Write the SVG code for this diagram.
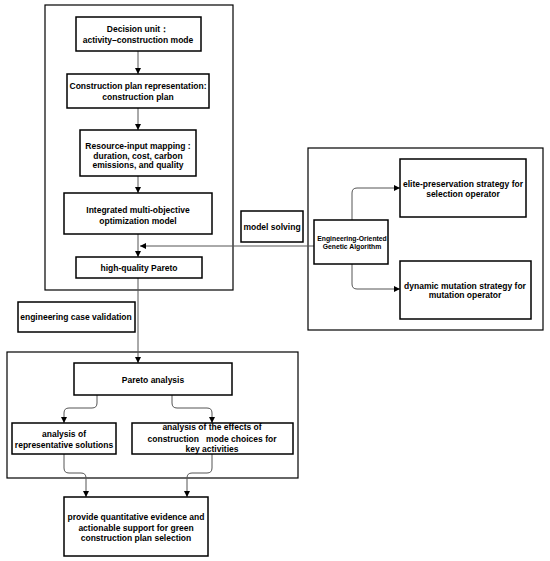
<svg xmlns="http://www.w3.org/2000/svg" width="550" height="561" viewBox="0 0 550 561">
<defs>
<style>
.frame{fill:none;stroke:#000;stroke-width:1.2}
.box{fill:#fff;stroke:#000;stroke-width:1.5}
.t{font-family:"Liberation Sans",Arial,sans-serif;font-weight:bold;font-size:8.5px;fill:#000;text-anchor:middle}
.s{font-size:6.8px}
.c{fill:none;stroke:#555;stroke-width:1}
</style>
<marker id="ah" markerWidth="6" markerHeight="6" refX="6" refY="3" orient="auto" markerUnits="userSpaceOnUse">
<path d="M0,0 L6,3 L0,6 z" fill="#000"/>
</marker>
</defs>
<rect width="550" height="561" fill="#fff"/>
<g id="frames">
<rect class="frame" x="45" y="5" width="188" height="285"/>
<rect class="frame" x="308" y="148" width="235" height="182"/>
<rect class="frame" x="7" y="352" width="291" height="126"/>
</g>
<g id="connectors">
<path class="c" d="M138,51 V74" marker-end="url(#ah)"/>
<path class="c" d="M138,108 V130" marker-end="url(#ah)"/>
<path class="c" d="M138,176 V193" marker-end="url(#ah)"/>
<path class="c" d="M138,234 V257" marker-end="url(#ah)"/>
<path class="c" d="M314,246 H140" marker-end="url(#ah)"/>
<path class="c" d="M138,278 V363" marker-end="url(#ah)"/>
<path class="c" d="M352,220 V193 Q352,188 357,188 H400" marker-end="url(#ah)"/>
<path class="c" d="M352,264 V284 Q352,289 357,289 H400" marker-end="url(#ah)"/>
<path class="c" d="M97,395 V403 Q97,408 92,408 H69 Q64,408 64,413 V423" marker-end="url(#ah)"/>
<path class="c" d="M172,395 V403 Q172,408 177,408 H207 Q212,408 212,413 V423" marker-end="url(#ah)"/>
<path class="c" d="M64,454 V468 Q64,473 69,473 H81 Q86,473 86,478 V497" marker-end="url(#ah)"/>
<path class="c" d="M212,454 V468 Q212,473 207,473 H192 Q187,473 187,478 V497" marker-end="url(#ah)"/>
</g>
<g id="decision-unit">
<rect class="box" x="76" y="17" width="125" height="34"/>
<text class="t" x="138" y="32">Decision unit：</text>
<text class="t" x="138" y="43">activity–construction mode</text>
</g>
<g id="plan-representation">
<rect class="box" x="67" y="74" width="142" height="34"/>
<text class="t" x="138" y="89">Construction plan representation:</text>
<text class="t" x="138" y="100">construction plan</text>
</g>
<g id="resource-mapping">
<rect class="box" x="80" y="130" width="116" height="46"/>
<text class="t" x="138" y="149">Resource-input mapping :</text>
<text class="t" x="138" y="158.5">duration, cost, carbon</text>
<text class="t" x="138" y="168">emissions, and quality</text>
</g>
<g id="integrated-model">
<rect class="box" x="64" y="193" width="148" height="41"/>
<text class="t" x="138" y="213">Integrated multi-objective</text>
<text class="t" x="138" y="223.5">optimization model</text>
</g>
<g id="pareto">
<rect class="box" x="76" y="257" width="126" height="21"/>
<text class="t" x="139" y="271">high-quality Pareto</text>
</g>
<g id="model-solving">
<rect class="box" x="241" y="211" width="62" height="31"/>
<text class="t" x="272" y="230">model solving</text>
</g>
<g id="ga">
<rect class="box" x="314" y="220" width="74" height="44"/>
<text class="t s" x="352" y="241">Engineering-Oriented</text>
<text class="t s" x="352" y="249">Genetic Algorithm</text>
</g>
<g id="elite">
<rect class="box" x="400" y="159" width="126" height="58"/>
<text class="t" x="463" y="187">elite-preservation strategy for</text>
<text class="t" x="463" y="196.5">selection operator</text>
</g>
<g id="dynamic">
<rect class="box" x="400" y="261" width="131" height="58"/>
<text class="t" x="465" y="289">dynamic mutation strategy for</text>
<text class="t" x="465" y="298">mutation operator</text>
</g>
<g id="case-validation">
<rect class="box" x="18" y="302" width="117" height="30"/>
<text class="t" x="76" y="320">engineering case validation</text>
</g>
<g id="pareto-analysis">
<rect class="box" x="74" y="363" width="158" height="32"/>
<text class="t" x="153" y="383">Pareto analysis</text>
</g>
<g id="representative">
<rect class="box" x="12" y="423" width="104" height="31"/>
<text class="t" x="64" y="437">analysis of</text>
<text class="t" x="64" y="447.5">representative solutions</text>
</g>
<g id="effects">
<rect class="box" x="132" y="423" width="161" height="31"/>
<text class="t" x="212" y="430">analysis of the effects of</text>
<text class="t" x="212" y="441.5" xml:space="preserve">construction   mode choices for</text>
<text class="t" x="212" y="452">key activities</text>
</g>
<g id="support">
<rect class="box" x="64" y="497" width="144" height="59"/>
<text class="t" x="136" y="520">provide quantitative evidence and</text>
<text class="t" x="136" y="530.5">actionable support for green</text>
<text class="t" x="136" y="541">construction plan selection</text>
</g>
</svg>
